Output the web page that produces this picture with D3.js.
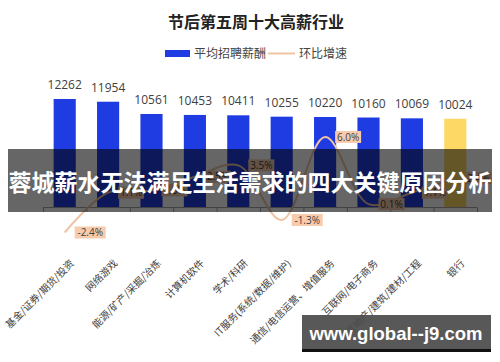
<!DOCTYPE html>
<html><head><meta charset="utf-8">
<script src="https://cdn.jsdelivr.net/npm/d3@7"></script>
<style>
html,body{margin:0;padding:0;background:#fff;}
svg{display:block;font-family:"Noto Sans CJK SC","Noto Sans",sans-serif;}
</style></head>
<body><svg id="c" width="500" height="362"></svg>
<script>
const title = "节后第五周十大高薪行业";
const seriesNames = ["平均招聘薪酬", "环比增速"];
const categories = ["基金/证券/期货/投资","网络游戏","能源/矿产/采掘/冶炼","计算机软件","学术/科研","IT服务(系统/数据/维护)","通信/电信运营、增值服务","互联网/电子商务","房地产/建筑/建材/工程","银行"];
const salary = [12262,11954,10561,10453,10411,10255,10220,10160,10069,10024];
const growth = [-2.4,1.1,1.3,2.5,3.5,-1.3,6.0,0.1,1.1,2.4];
const barColors = ["#1f3ce2","#1f3ce2","#1f3ce2","#1f3ce2","#1f3ce2","#1f3ce2","#1f3ce2","#1f3ce2","#1f3ce2","#fdd865"];
const bannerText = "蓉城薪水无法满足生活需求的四大关键原因分析";
const watermark = "www.global--j9.com";

const svg = d3.select("#c");
const x = d3.scaleBand().domain(categories).range([43,477]).paddingInner(0.49).paddingOuter(0.245);
const y = d3.scaleLinear().domain([0,14000]).range([207,83.7]);
const y2 = d3.scaleLinear().domain([-4,8]).range([250.7,114.2]);

// title
svg.append("text").attr("x",256).attr("y",28).attr("text-anchor","middle")
  .attr("font-size",16).attr("font-weight","bold").attr("fill","#222").text(title);

// legend
const lg = svg.append("g");
lg.append("rect").attr("x",165).attr("y",50).attr("width",25).attr("height",7).attr("fill","#1f3ce2");
lg.append("text").attr("x",194).attr("y",57.5).attr("font-size",12).attr("fill","#444").text(seriesNames[0]);
lg.append("line").attr("x1",268).attr("x2",295).attr("y1",53.5).attr("y2",53.5).attr("stroke","#efc3a4").attr("stroke-width",2);
lg.append("text").attr("x",299).attr("y",57.5).attr("font-size",12).attr("fill","#444").text(seriesNames[1]);

// bars
svg.append("g").selectAll("rect").data(categories).join("rect")
  .attr("x",d=>x(d)).attr("width",x.bandwidth())
  .attr("y",(d,i)=>y(salary[i])).attr("height",(d,i)=>y(0)-y(salary[i]))
  .attr("fill",(d,i)=>barColors[i]);

// value labels
svg.append("g").selectAll("text").data(categories).join("text")
  .attr("x",d=>x(d)+x.bandwidth()/2).attr("y",(d,i)=>y(salary[i])-10)
  .attr("text-anchor","middle").attr("font-size",12).attr("fill","#404040")
  .attr("font-family","'Open Sans','Noto Sans',sans-serif")
  .text((d,i)=>salary[i]);

// x axis
const step = x.step();
const ax = svg.append("g");
ax.append("line").attr("x1",43).attr("x2",477).attr("y1",207.5).attr("y2",207.5).attr("stroke","#a6a6a6");
ax.selectAll("line.t").data(d3.range(categories.length+1)).join("line").attr("class","t")
  .attr("x1",i=>43.5+i*step).attr("x2",i=>43.5+i*step).attr("y1",207.5).attr("y2",212).attr("stroke","#a6a6a6");

// axis labels
svg.append("g").selectAll("text").data(categories).join("text")
  .attr("transform",d=>`translate(${x(d)+x.bandwidth()/2+10},264) rotate(-45)`)
  .attr("text-anchor","end").attr("font-size",10).attr("fill","#404040").text(d=>d);

// line
const line = d3.line().x((d,i)=>x(categories[i])+x.bandwidth()/2).y(d=>y2(d)).curve(d3.curveCatmullRom.alpha(0.5));
svg.append("path").datum(growth).attr("d",line).attr("fill","none").attr("stroke","#efc3a4").attr("stroke-width",2);

// line labels
const ll = svg.append("g").selectAll("g").data(growth).join("g")
  .attr("transform",(d,i)=>`translate(${x(categories[i])+x.bandwidth()/2+10},${y2(d)})`);
ll.append("rect").attr("x",0).attr("y",-6).attr("height",12)
  .attr("width",d=>d<0?31:26).attr("fill","#f8cbad");
ll.append("text").attr("x",d=>d<0?15.5:13).attr("y",3.6).attr("text-anchor","middle")
  .attr("font-size",10).attr("fill","#404040").attr("font-family","'Open Sans','Noto Sans',sans-serif")
  .text(d=>d.toFixed(1)+"%");

// banner overlay
svg.append("rect").attr("x",8).attr("y",149).attr("width",484).attr("height",63).attr("fill","rgba(0,0,0,0.6)");
svg.append("text").attr("x",250).attr("y",191).attr("text-anchor","middle").attr("font-size",23)
  .attr("font-weight","bold").attr("fill","#fff").text(bannerText);

// watermark
svg.append("rect").attr("x",302).attr("y",315).attr("width",189).attr("height",35).attr("fill","rgba(75,75,75,0.93)");
svg.append("rect").attr("x",302).attr("y",349).attr("width",189).attr("height",3).attr("fill","#111");
svg.append("text").attr("x",396).attr("y",340).attr("text-anchor","middle").attr("font-size",18.5)
  .attr("font-weight","bold").attr("fill","#fff").attr("font-family","'Liberation Sans',Arial,sans-serif").text(watermark);
</script></body></html>
